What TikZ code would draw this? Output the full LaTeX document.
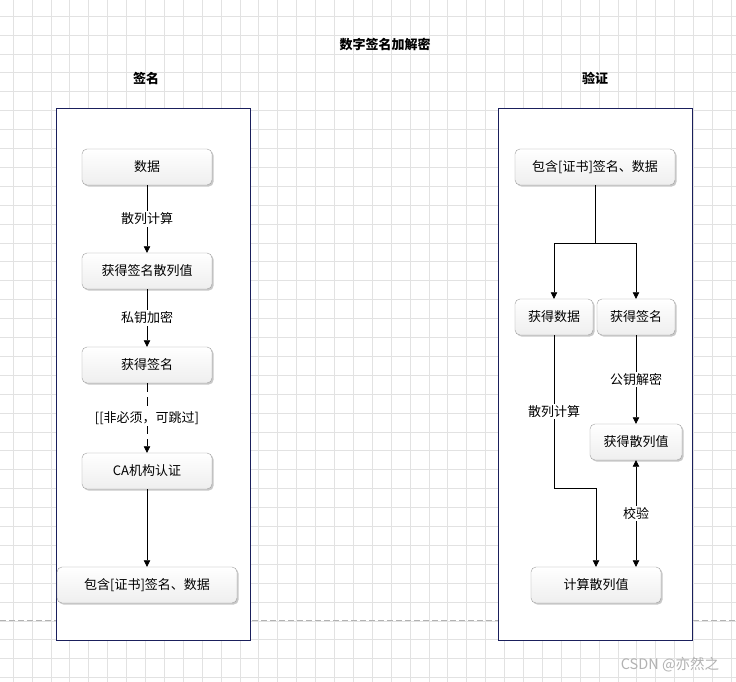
\documentclass[tikz,border=0pt]{standalone}
\usepackage{fontspec}
\setmainfont{Noto Sans CJK SC}
\usepackage{tikz}
\usetikzlibrary{arrows.meta}
\usetikzlibrary{shadows}

\definecolor{lanecol}{HTML}{1A1F5C}
\definecolor{gridcol}{HTML}{E2E2E2}

\tikzset{
    stepbox/.style={draw=gray!75, rounded corners=5pt, top color=white, bottom color=gray!13,
        drop shadow={shadow xshift=1.6pt, shadow yshift=-1.6pt, fill=gray!60, opacity=0.7},
        minimum height=36pt, inner sep=0pt, font=\fontsize{13}{15}\selectfont},
    lane/.style={draw=lanecol, fill=white, line width=0.8pt},
    flow/.style={-{Triangle[width=6.5pt,length=6.5pt]}, line width=0.7pt},
    lbl/.style={fill=white, inner sep=1.5pt, font=\fontsize{13}{15}\selectfont},
    heading/.style={font=\fontsize{13}{15}\selectfont\bfseries},
}

\begin{document}
\begin{tikzpicture}[x=1pt, y=-1pt]
        \useasboundingbox[fill=white] (0, 0) rectangle (736, 682);
        \foreach \i in {0,...,38} \draw[gridcol, line width=0.5pt] ({13+18.9*\i}, 0) -- ({13+18.9*\i}, 682);
        \foreach \j in {0,...,35} \draw[gridcol, line width=0.5pt] (0, {16+18.9*\j}) -- (736, {16+18.9*\j});
        \draw[gray!60, dash pattern=on 6pt off 3pt, line width=0.5pt] (0, 620) -- (736, 620);

        % headings
        \node[heading] (title) at (385, 44) {数字签名加解密};
        \node[heading] (signhead) at (146, 78) {签名};
        \node[heading] (verihead) at (595, 78) {验证};

        % lanes
        \draw[lane] (56, 108) rectangle (250, 640);
        \draw[lane] (498, 108) rectangle (692, 640);

        % sign side
        \node[stepbox, minimum width=130pt] (data) at (147, 167) {数据};
        \node[stepbox, minimum width=130pt] (hashval) at (147, 271) {获得签名散列值};
        \node[stepbox, minimum width=130pt] (sig) at (147, 365) {获得签名};
        \node[stepbox, minimum width=130pt] (ca) at (147, 471) {CA机构认证};
        \node[stepbox, minimum width=180pt] (pkg) at (147, 585) {包含[证书]签名、数据};

        \draw[flow] (data) -- node[lbl] {散列计算} (hashval);
        \draw[flow] (hashval) -- node[lbl] {私钥加密} (sig);
        \draw[flow, dash pattern=on 9pt off 5pt] (sig) -- node[lbl] {[[非必须，可跳过]} (ca);
        \draw[flow] (ca) -- (pkg);

        % verify side
        \node[stepbox, minimum width=160pt] (vpkg) at (595, 167) {包含[证书]签名、数据};
        \node[stepbox, minimum width=78pt] (vdata) at (554, 317) {获得数据};
        \node[stepbox, minimum width=78pt] (vsig) at (636, 317) {获得签名};
        \node[stepbox, minimum width=92pt] (vhash) at (636, 442) {获得散列值};
        \node[stepbox, minimum width=130pt] (vcalc) at (596, 585) {计算散列值};

        \coordinate (split) at (595, 243);
        \coordinate (merge) at (596, 488);
        \draw[line width=0.7pt] (vpkg) -- (split);
        \draw[flow] (split) -| (vdata);
        \draw[flow] (split) -| (vsig);
        \draw[flow] (vdata) |- node[lbl, pos=0.25] {散列计算} (merge) -- (vcalc);
        \draw[flow] (vsig) -- node[lbl] {公钥解密} (vhash);
        \draw[flow, {Triangle[width=6.5pt,length=6.5pt]}-{Triangle[width=6.5pt,length=6.5pt]}] (vhash) -- node[lbl] {校验} (vhash |- vcalc.north);

        % watermark
        \node[text=gray!60, font=\fontsize{14.5}{16}\selectfont] (mark) at (670, 665) {CSDN @亦然之};
    \end{tikzpicture}
\end{document}
